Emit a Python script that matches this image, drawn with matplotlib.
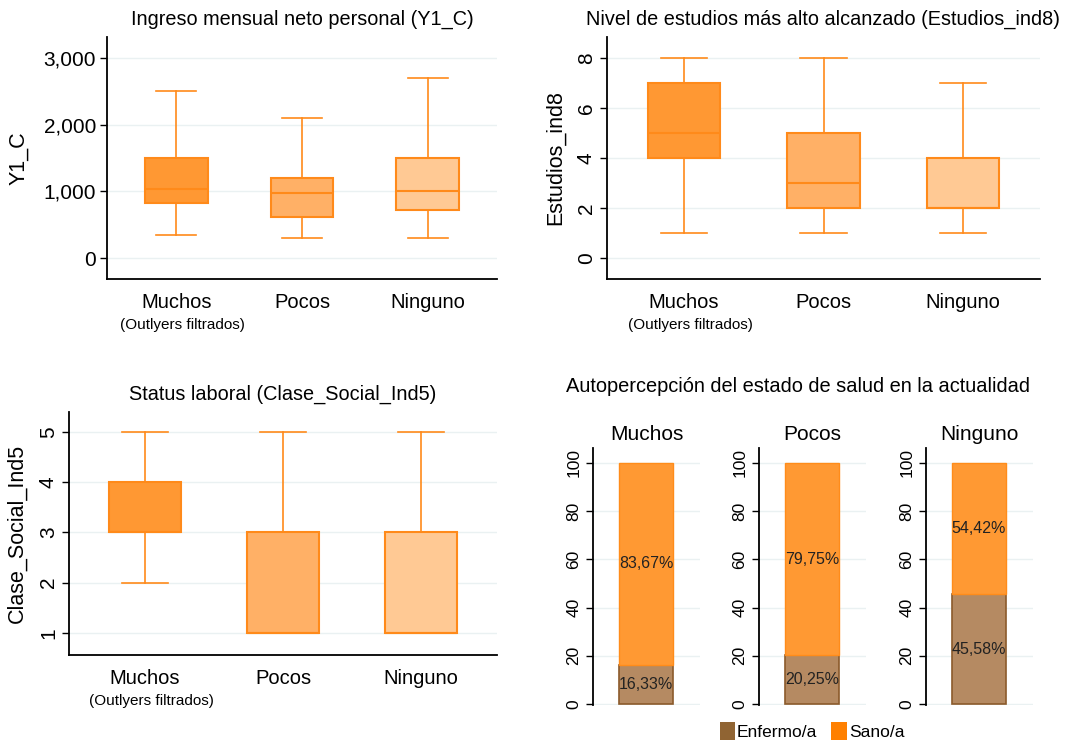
import matplotlib
matplotlib.use('Agg')
import matplotlib.pyplot as plt
from matplotlib.patches import Patch
from matplotlib.ticker import FuncFormatter

plt.rcParams['font.family'] = ['Liberation Sans', 'DejaVu Sans']

grupos = ['Muchos', 'Pocos', 'Ninguno']

# Y1_C: whislo, q1, med, q3, whishi
ingreso_lo = [350, 300, 300]
ingreso_q1 = [820, 620, 720]
ingreso_med = [1040, 980, 1000]
ingreso_q3 = [1500, 1200, 1500]
ingreso_hi = [2500, 2100, 2700]

estudios_lo = [1, 1, 1]
estudios_q1 = [4, 2, 2]
estudios_med = [5, 3, 2]
estudios_q3 = [7, 5, 4]
estudios_hi = [8, 8, 7]

clase_lo = [2, 1, 1]
clase_q1 = [3, 1, 1]
clase_med = [3, 1, 1]
clase_q3 = [4, 3, 3]
clase_hi = [5, 5, 5]

enfermo = [16.33, 20.25, 45.58]
sano = [83.67, 79.75, 54.42]

box_fill = ['#FF9833', '#FFB066', '#FFC994']
line_col = '#FF8A1A'
grid_col = '#EAF1F2'

W, H = 1086, 743
fig = plt.figure(figsize=(W / 100, H / 100), dpi=100)


def px_axes(x0, y0, x1, y1):
    return fig.add_axes([x0 / W, 1 - y1 / H, (x1 - x0) / W, (y1 - y0) / H])


def boxpanel(ax, lo, q1, med, q3, hi, width, title, ylabel, ylim, yticks,
             fmt=None, rot=0, tsize=15, lpad=6):
    stats = []
    for i in range(3):
        stats.append(dict(whislo=lo[i], q1=q1[i], med=med[i], q3=q3[i],
                          whishi=hi[i], fliers=[]))
    bp = ax.bxp(stats, positions=[1, 2, 3], widths=width, patch_artist=True,
                showfliers=False,
                whiskerprops=dict(color=line_col, lw=1.2),
                capprops=dict(color=line_col, lw=1.2),
                medianprops=dict(color=line_col, lw=1.5),
                boxprops=dict(edgecolor=line_col, lw=1.5))
    for b, c in zip(bp['boxes'], box_fill):
        b.set_facecolor(c)
    for cap in bp['caps']:
        xd = cap.get_xdata()
        m = (xd[0] + xd[1]) / 2
        cap.set_xdata([m - width * 0.32, m + width * 0.32])
    ax.set_xlim(0.45, 3.55)
    ax.set_ylim(*ylim)
    ax.set_yticks(yticks)
    if fmt:
        ax.yaxis.set_major_formatter(FuncFormatter(fmt))
    ax.tick_params(axis='y', labelsize=tsize, rotation=rot, length=5,
                   width=1, pad=3)
    if rot:
        for t in ax.get_yticklabels():
            t.set_va('center')
    ax.tick_params(axis='x', length=0, pad=10)
    ax.set_xticks([1, 2, 3])
    ax.set_xticklabels(grupos, fontsize=14.5)
    ax.text(1.05, -0.19, '(Outlyers filtrados)', transform=ax.get_xaxis_transform(),
            ha='center', va='center', fontsize=11)
    ax.set_ylabel(ylabel, fontsize=15.5, labelpad=lpad)
    ax.set_title(title, fontsize=14.3, pad=9)
    ax.grid(axis='y', color=grid_col, lw=1)
    ax.set_axisbelow(True)
    for s in ['top', 'right']:
        ax.spines[s].set_visible(False)
    ax.spines['left'].set_linewidth(1.3)
    ax.spines['bottom'].set_linewidth(1.3)


ax1 = px_axes(107, 37, 497, 279)
boxpanel(ax1, ingreso_lo, ingreso_q1, ingreso_med, ingreso_q3, ingreso_hi,
         0.5, 'Ingreso mensual neto personal (Y1_C)', 'Y1_C',
         (-315, 3315), [0, 1000, 2000, 3000],
         fmt=lambda v, p: '{:,.0f}'.format(v), lpad=10)

ax2 = px_axes(607, 37, 1040, 279)
boxpanel(ax2, estudios_lo, estudios_q1, estudios_med, estudios_q3, estudios_hi,
         0.52, 'Nivel de estudios más alto alcanzado (Estudios_ind8)',
         'Estudios_ind8', (-0.84, 8.84), [0, 2, 4, 6, 8], rot=90, tsize=15,
         lpad=8)

ax3 = px_axes(69, 412, 497, 655)
boxpanel(ax3, clase_lo, clase_q1, clase_med, clase_q3, clase_hi,
         0.52, 'Status laboral (Clase_Social_Ind5)', 'Clase_Social_Ind5',
         (0.56, 5.4), [1, 2, 3, 4, 5], rot=90, tsize=15, lpad=8)

# health panel
fig.text(798 / W, 1 - 387 / H, 'Autopercepción del estado de salud en la actualidad',
         ha='center', va='center', fontsize=14.4)
lefts = [593, 759, 926]
for i, g in enumerate(grupos):
    ax = px_axes(lefts[i], 448, lefts[i] + 107, 705)
    b1 = ax.bar([0], [enfermo[i]], width=1.0, color='#B58A62',
                edgecolor='#8B5A2B', lw=1.2)
    b2 = ax.bar([0], [sano[i]], bottom=[enfermo[i]], width=1.0,
                color='#FF9933', edgecolor='#FF8C1A', lw=1.0)
    ax.bar_label(b1, labels=['{:.2f}%'.format(enfermo[i]).replace('.', ',')],
                 label_type='center', fontsize=11.5, color='#222222')
    ax.bar_label(b2, labels=['{:.2f}%'.format(sano[i]).replace('.', ',')],
                 label_type='center', fontsize=11.5, color='#222222')
    ax.set_xlim(-0.98, 1.0)
    ax.set_ylim(-0.4, 106.2)
    ax.set_yticks([0, 20, 40, 60, 80, 100])
    ax.tick_params(axis='y', labelsize=12.5, rotation=90, length=5, width=1)
    for t in ax.get_yticklabels():
        t.set_va('center')
    ax.set_xticks([])
    ax.grid(axis='y', color=grid_col, lw=1)
    ax.set_axisbelow(True)
    for s in ['top', 'right', 'bottom']:
        ax.spines[s].set_visible(False)
    ax.spines['left'].set_linewidth(1.3)
    ax.set_title(g, fontsize=15, pad=6)

handles = [Patch(facecolor='#906433', label='Enfermo/a'),
           Patch(facecolor='#FF8000', label='Sano/a')]
fig.legend(handles=handles, loc='center', bbox_to_anchor=(812 / W, 1 - 731 / H),
           ncol=2, frameon=False, fontsize=12.5, handlelength=0.9,
           handleheight=1.2, handletextpad=0.1, columnspacing=0.8)

fig.savefig('out.png', dpi=100, facecolor='white')
